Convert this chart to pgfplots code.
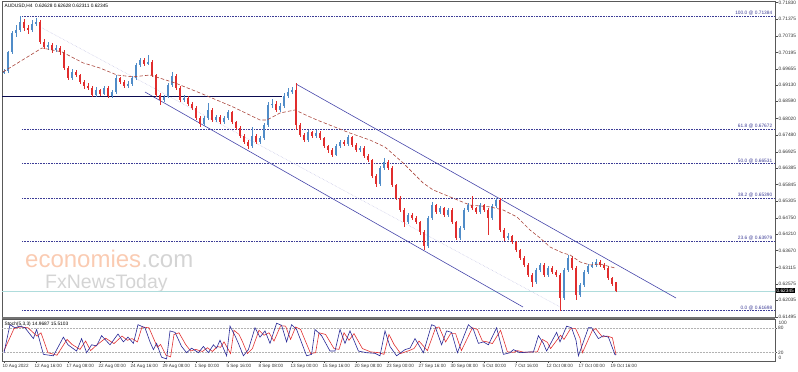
\documentclass[border=0pt]{standalone}
\usepackage{pgfplots}
\pgfplotsset{compat=1.18}
\usepackage{pgfplotstable}
\usepackage{fontspec}
\setmainfont{Liberation Sans}
\definecolor{upc}{RGB}{80,140,200}
\definecolor{dnc}{RGB}{225,45,45}
\definecolor{mac}{RGB}{170,70,60}
\definecolor{fibc}{RGB}{60,60,150}
\definecolor{chc}{RGB}{70,70,170}
\definecolor{navyl}{RGB}{10,10,80}
\definecolor{curc}{RGB}{175,220,220}
\definecolor{kc}{RGB}{40,40,150}
\definecolor{dc}{RGB}{225,50,50}
\definecolor{wmo}{RGB}{250,203,178}
\definecolor{wmg}{RGB}{212,212,212}
\pgfplotstableread{
x o h l c
0 0.6955 0.6965 0.6948 0.6958
2 0.6958 0.7025 0.6952 0.7021
4 0.7021 0.7090 0.7015 0.7083
6 0.7083 0.7110 0.7070 0.7093
8 0.7093 0.71384 0.7088 0.7120
10 0.7120 0.7128 0.7090 0.7100
12 0.7100 0.7110 0.7080 0.7093
14 0.7093 0.7125 0.7088 0.7113
16 0.7113 0.7132 0.7105 0.7120
18 0.7120 0.7126 0.7048 0.7054
20 0.7054 0.7062 0.7030 0.7037
22 0.7037 0.7055 0.7028 0.7044
24 0.7044 0.7050 0.7018 0.7027
26 0.7027 0.7045 0.7020 0.7034
28 0.7034 0.7040 0.7012 0.7021
30 0.7021 0.7026 0.6960 0.6968
32 0.6968 0.6975 0.6928 0.6935
34 0.6935 0.6965 0.6930 0.6955
36 0.6955 0.6962 0.6938 0.6945
38 0.6945 0.6950 0.6915 0.6922
40 0.6922 0.6930 0.6900 0.6909
42 0.6909 0.6920 0.6895 0.6902
44 0.6902 0.6908 0.6872 0.6879
46 0.6879 0.6905 0.6874 0.6896
48 0.6896 0.6900 0.6876 0.6883
50 0.6883 0.6910 0.6878 0.6902
52 0.6902 0.6908 0.6868 0.6876
54 0.6876 0.6895 0.6870 0.6889
56 0.6889 0.6945 0.6884 0.6935
58 0.6935 0.6940 0.6915 0.6922
60 0.6922 0.6930 0.6902 0.6909
62 0.6909 0.6925 0.6903 0.6916
64 0.6916 0.6942 0.6910 0.6935
66 0.6935 0.6985 0.6930 0.6978
68 0.6978 0.7002 0.6970 0.6995
70 0.6995 0.7000 0.6975 0.6981
72 0.6981 0.7011 0.6978 0.6988
74 0.6988 0.6994 0.6940 0.6945
76 0.6945 0.6950 0.6872 0.6879
78 0.6879 0.6885 0.6846 0.6863
80 0.6863 0.6880 0.6855 0.6873
82 0.6873 0.6918 0.6868 0.6912
84 0.6912 0.6955 0.6905 0.6942
86 0.6942 0.6948 0.6895 0.6902
88 0.6902 0.6908 0.6855 0.6863
90 0.6863 0.6878 0.6855 0.6869
92 0.6869 0.6875 0.6842 0.6850
94 0.6850 0.6856 0.6830 0.6837
96 0.6837 0.6842 0.6797 0.6804
98 0.6804 0.6810 0.6774 0.6784
100 0.6784 0.6810 0.6778 0.6804
102 0.6804 0.6853 0.6798 0.6830
104 0.6830 0.6835 0.6790 0.6797
106 0.6797 0.6815 0.6790 0.6807
108 0.6807 0.6812 0.6783 0.6790
110 0.6790 0.6810 0.6785 0.6804
112 0.6804 0.6830 0.6798 0.6823
114 0.6823 0.6828 0.6784 0.6790
116 0.6790 0.6795 0.6764 0.6771
118 0.6771 0.6776 0.6738 0.6744
120 0.6744 0.6750 0.6718 0.6725
122 0.6725 0.6730 0.6702 0.6711
124 0.6711 0.6774 0.6706 0.6744
126 0.6744 0.6750 0.6718 0.6725
128 0.6725 0.6745 0.6718 0.6738
130 0.6738 0.6788 0.6732 0.6781
132 0.6781 0.6855 0.6775 0.6846
134 0.6846 0.6865 0.6838 0.6850
136 0.6850 0.6858 0.6822 0.6830
138 0.6830 0.6852 0.6825 0.6843
140 0.6843 0.6885 0.6838 0.6876
142 0.6876 0.6902 0.6870 0.6889
144 0.6889 0.6905 0.6882 0.6896
146 0.6896 0.6918 0.6764 0.6781
148 0.6781 0.6788 0.6740 0.6748
150 0.6748 0.6755 0.6724 0.6731
152 0.6731 0.6765 0.6725 0.6758
154 0.6758 0.6762 0.6738 0.6744
156 0.6744 0.6765 0.6738 0.6754
158 0.6754 0.6760 0.6730 0.6738
160 0.6738 0.6742 0.6705 0.6711
162 0.6711 0.6716 0.6690 0.6698
164 0.6698 0.6704 0.6675 0.6682
166 0.6682 0.6718 0.6678 0.6711
168 0.6711 0.6732 0.6705 0.6725
170 0.6725 0.6730 0.6712 0.6718
172 0.6718 0.6748 0.6712 0.6741
174 0.6741 0.6745 0.6708 0.6715
176 0.6715 0.6720 0.6692 0.6698
178 0.6698 0.6712 0.6692 0.6705
180 0.6705 0.6710 0.6672 0.6679
182 0.6679 0.6684 0.6658 0.6665
184 0.6665 0.6670 0.6606 0.6613
186 0.6613 0.6618 0.6577 0.6586
188 0.6586 0.6645 0.6580 0.6639
190 0.6639 0.6672 0.6632 0.6659
192 0.6659 0.6665 0.6632 0.6639
194 0.6639 0.6645 0.6576 0.6583
196 0.6583 0.6588 0.6533 0.6540
198 0.6540 0.6548 0.6494 0.6501
200 0.6501 0.6508 0.6445 0.6461
202 0.6461 0.6492 0.6455 0.6484
204 0.6484 0.6490 0.6468 0.6474
206 0.6474 0.6480 0.6455 0.6461
208 0.6461 0.6466 0.6420 0.6428
210 0.6428 0.6435 0.6369 0.6382
212 0.6382 0.6480 0.6376 0.6474
214 0.6474 0.6527 0.6468 0.6517
216 0.6517 0.6522 0.6488 0.6494
218 0.6494 0.6515 0.6488 0.6507
220 0.6507 0.6512 0.6478 0.6484
222 0.6484 0.6508 0.6478 0.6501
224 0.6501 0.6506 0.6455 0.6461
226 0.6461 0.6466 0.6402 0.6409
228 0.6409 0.6448 0.6403 0.6442
230 0.6442 0.6508 0.6436 0.6501
232 0.6501 0.6525 0.6495 0.6517
234 0.6517 0.6547 0.6500 0.6507
236 0.6507 0.6512 0.6488 0.6494
238 0.6494 0.6524 0.6488 0.6517
240 0.6517 0.6522 0.6495 0.6501
242 0.6501 0.6506 0.6419 0.6474
244 0.6474 0.6520 0.6468 0.6514
246 0.6514 0.6540 0.6508 0.6534
248 0.6534 0.6540 0.6428 0.6435
250 0.6435 0.6440 0.6400 0.6409
252 0.6409 0.6425 0.6402 0.6415
254 0.6415 0.6420 0.6388 0.6396
256 0.6396 0.6400 0.6362 0.6369
258 0.6369 0.6374 0.6336 0.6343
260 0.6343 0.6348 0.6313 0.6320
262 0.6320 0.6325 0.6280 0.6287
264 0.6287 0.6292 0.6248 0.6264
266 0.6264 0.6310 0.6258 0.6303
268 0.6303 0.6328 0.6297 0.6320
270 0.6320 0.6325 0.6280 0.6287
272 0.6287 0.6316 0.6280 0.6310
274 0.6310 0.6315 0.6290 0.6297
276 0.6297 0.6303 0.6280 0.6287
278 0.6287 0.6292 0.61698 0.6211
280 0.6211 0.6310 0.6205 0.6303
282 0.6303 0.6353 0.6297 0.6343
284 0.6343 0.6348 0.6303 0.6310
286 0.6310 0.6315 0.6205 0.6221
288 0.6221 0.6260 0.6215 0.6254
290 0.6254 0.6303 0.6248 0.6297
292 0.6297 0.6322 0.6290 0.6316
294 0.6316 0.6330 0.6310 0.6320
296 0.6320 0.6340 0.6313 0.6330
298 0.6330 0.6335 0.6313 0.6320
300 0.6320 0.6328 0.6303 0.6310
302 0.6310 0.6315 0.6270 0.6277
304 0.6277 0.6282 0.6250 0.6257
306 0.62628 0.62628 0.62311 0.62345
}\candles
\begin{document}
\begin{tikzpicture}[x=1pt,y=1pt]
\useasboundingbox (0,0) rectangle (798pt,372pt);
% watermark
\node[anchor=base west, inner sep=0, text=wmo, font=\fontsize{24}{24}\selectfont] at (25pt,104.5pt) {economies\textcolor{wmg}{.com}};
\node[anchor=base west, inner sep=0, text=wmg, font=\fontsize{19.5}{19.5}\selectfont] at (45pt,83pt) {FxNewsToday};
% main price panel
\begin{axis}[
  at={(2pt,55pt)}, anchor=south west, scale only axis,
  width=773pt, height=316pt,
  xmin=-1, xmax=385.5, ymin=0.61487, ymax=0.71886,
  clip=false,
  axis line style={draw=black!65, line width=0.5pt},
  xtick=\empty,
  ytick={0.61495,0.62035,0.62575,0.63115,0.63670,0.64210,0.64750,0.65305,0.65845,0.66385,0.66925,0.67480,0.68020,0.68590,0.69130,0.69655,0.70195,0.70735,0.71290,0.71830},
  yticklabels={0.61495,0.62035,0.62575,0.63115,0.63670,0.64210,0.64750,0.65305,0.65845,0.66385,0.66925,0.67480,0.68020,0.68590,0.69130,0.69655,0.70195,0.70735,0.71375,0.71830},
  ytick pos=right, yticklabel pos=right, tick align=outside,
  major tick length=2.5pt, tick style={black!70, line width=0.4pt},
  yticklabel style={font=\fontsize{4.8}{5}\selectfont, text=black!80, inner sep=1pt},
]
% fibonacci levels
\addplot[fibc, densely dotted, line width=0.6pt, forget plot] coordinates {(9,0.71384) (385.5,0.71384)};
\addplot[fibc, densely dotted, line width=0.6pt, forget plot] coordinates {(9,0.67672) (385.5,0.67672)};
\addplot[fibc, densely dotted, line width=0.6pt, forget plot] coordinates {(9,0.66531) (385.5,0.66531)};
\addplot[fibc, densely dotted, line width=0.6pt, forget plot] coordinates {(9,0.65390) (385.5,0.65390)};
\addplot[fibc, densely dotted, line width=0.6pt, forget plot] coordinates {(9,0.63979) (385.5,0.63979)};
\addplot[fibc, densely dotted, line width=0.6pt, forget plot] coordinates {(9,0.61698) (385.5,0.61698)};
\node[anchor=south east, inner sep=0.6pt, text=fibc, font=\fontsize{4.8}{5}\selectfont] at (axis cs:384.5,0.71384) {100.0 @ 0.71384};
\node[anchor=south east, inner sep=0.6pt, text=fibc, font=\fontsize{4.8}{5}\selectfont] at (axis cs:384.5,0.67672) {61.8 @ 0.67672};
\node[anchor=south east, inner sep=0.6pt, text=fibc, font=\fontsize{4.8}{5}\selectfont] at (axis cs:384.5,0.66531) {50.0 @ 0.66531};
\node[anchor=south east, inner sep=0.6pt, text=fibc, font=\fontsize{4.8}{5}\selectfont] at (axis cs:384.5,0.65390) {38.2 @ 0.65390};
\node[anchor=south east, inner sep=0.6pt, text=fibc, font=\fontsize{4.8}{5}\selectfont] at (axis cs:384.5,0.63979) {23.6 @ 0.63979};
\node[anchor=south east, inner sep=0.6pt, text=fibc, font=\fontsize{4.8}{5}\selectfont] at (axis cs:384.5,0.61698) {0.0 @ 0.61698};
% current price line
\addplot[curc, line width=0.6pt, forget plot] coordinates {(-1,0.62345) (385.5,0.62345)};
% channel
\addplot[chc, line width=0.6pt, forget plot] coordinates {(146,0.69155) (336,0.62112)};
\addplot[chc, line width=0.6pt, forget plot] coordinates {(70.5,0.68891) (259.5,0.61816)};
\addplot[chc!35, densely dotted, line width=0.5pt, forget plot] coordinates {(19,0.7100) (278,0.6182)};
% horizontal support/resistance
\addplot[navyl, line width=0.9pt, forget plot] coordinates {(-1,0.68737) (139,0.68737)};
% candles: wicks
\addplot[draw=none, mark=none, forget plot,
  restrict expr to domain={\thisrow{c}-\thisrow{o}}{0:1},
  error bars/.cd, y dir=both, y explicit, error mark=none,
  error bar style={draw=upc, line width=0.7pt}]
  table[x=x, y expr={(\thisrow{h}+\thisrow{l})/2}, y error expr={(\thisrow{h}-\thisrow{l})/2}] {\candles};
\addplot[draw=none, mark=none, forget plot,
  restrict expr to domain={\thisrow{c}-\thisrow{o}}{-1:0},
  error bars/.cd, y dir=both, y explicit, error mark=none,
  error bar style={draw=dnc, line width=0.7pt}]
  table[x=x, y expr={(\thisrow{h}+\thisrow{l})/2}, y error expr={(\thisrow{h}-\thisrow{l})/2}] {\candles};
% candles: bodies
\addplot[draw=none, mark=none, forget plot,
  restrict expr to domain={\thisrow{c}-\thisrow{o}}{0:1},
  error bars/.cd, y dir=both, y explicit, error mark=none,
  error bar style={draw=upc, line width=2.2pt}]
  table[x=x, y expr={(\thisrow{o}+\thisrow{c})/2}, y error expr={abs(\thisrow{c}-\thisrow{o})/2}] {\candles};
\addplot[draw=none, mark=none, forget plot,
  restrict expr to domain={\thisrow{c}-\thisrow{o}}{-1:0},
  error bars/.cd, y dir=both, y explicit, error mark=none,
  error bar style={draw=dnc, line width=2.2pt}]
  table[x=x, y expr={(\thisrow{o}+\thisrow{c})/2}, y error expr={abs(\thisrow{c}-\thisrow{o})/2}] {\candles};
% moving average
\addplot[mac, line width=0.6pt, dash pattern=on 3.5pt off 2pt, forget plot] coordinates {
(-0.5,0.6955) (19,0.7034) (29,0.7021) (39.5,0.6985) (48,0.6968) (56.5,0.6945) (64.5,0.6939) (73,0.6945) (85.5,0.6919) (98,0.6886) (114.5,0.6840) (128,0.6797) (131.5,0.6797) (138,0.6820) (145.5,0.6830) (153,0.6807) (156.5,0.6797) (173,0.6754) (183,0.6731) (190.5,0.6708) (199.5,0.6656) (209.5,0.6590) (214.5,0.6567) (223,0.6544) (233,0.6517) (243,0.6511) (249.5,0.6501) (256.5,0.6478) (263,0.6435) (268,0.6409) (273,0.6379) (279.5,0.6359) (283,0.6353) (288,0.6330) (293,0.6320) (298,0.6323) (305.5,0.6310)};
% current price box
\node[anchor=west, fill=black, text=white, inner sep=0.8pt, font=\fontsize{4.8}{5}\selectfont, xshift=0.5pt] at (axis cs:385.5,0.62345) {0.62345};
\node[anchor=north west, inner sep=0.5pt, font=\fontsize{4.8}{5}\selectfont] at (rel axis cs:0,1) [xshift=2pt, yshift=-2pt] {AUDUSD,H4\ \ 0.62628 0.62628 0.62311 0.62345};
\end{axis}
% separator band
\fill[black!55] (2pt,52.5pt) rectangle (775pt,55pt);
% stochastic panel
\begin{axis}[
  at={(2pt,11pt)}, anchor=south west, scale only axis,
  width=773pt, height=41.5pt,
  xmin=-1, xmax=385.5, ymin=0, ymax=100,
  clip=false,
  axis line style={draw=black!65, line width=0.5pt},
  xtick={0,16,32,48,64,80,96,112,128,144,160,176,192,208,224,240,256,272,288,304},
  xticklabels={10 Aug 2022,12 Aug 16:00,17 Aug 08:00,22 Aug 00:00,24 Aug 16:00,29 Aug 08:00,1 Sep 00:00,5 Sep 16:00,8 Sep 08:00,13 Sep 00:00,15 Sep 16:00,20 Sep 08:00,23 Sep 00:00,27 Sep 16:00,30 Sep 08:00,5 Oct 00:00,7 Oct 16:00,12 Oct 08:00,17 Oct 00:00,19 Oct 16:00},
  xtick pos=bottom, xticklabel pos=bottom,
  ytick={20,80}, yticklabels={20,80},
  ytick pos=right, yticklabel pos=right, tick align=outside,
  major tick length=2pt, tick style={black!70, line width=0.4pt},
  xticklabel style={anchor=north west, font=\fontsize{4.6}{5}\selectfont, text=black!80, inner sep=0.8pt, xshift=-2.5pt},
  yticklabel style={font=\fontsize{4.8}{5}\selectfont, text=black!80, inner sep=1pt},
]
\addplot[black!30, densely dotted, line width=0.5pt, forget plot] coordinates {(-1,80) (385.5,80)};
\addplot[black!30, densely dotted, line width=0.5pt, forget plot] coordinates {(-1,20) (385.5,20)};
\addplot[dc, line width=0.6pt, forget plot] coordinates {
(0,25) (5,78) (8,82) (12,80) (16.5,60) (18.5,68) (22,20) (26.5,14) (31.5,52) (34,40) (38,28) (40.8,48) (43.3,25) (46,37) (50.8,55) (55,42) (59,60) (61.7,50) (64,54) (66.7,46) (69,82) (72.5,80) (75,52) (76.7,33) (78.3,40) (81,14) (83.3,10) (85,64) (87.5,68) (90.8,40) (93.3,24) (95.8,28) (99.2,23) (101.7,32) (104.2,23) (106.7,35) (108.3,33) (110,46) (113.3,18) (115,74) (117.5,64) (119.2,47) (121.7,18) (124.2,30) (127.5,74) (130,62) (132.5,68) (135,48) (138.3,85) (140.8,84) (143.3,52) (145.8,82) (148.3,76) (153.3,18) (155.8,20) (157.5,68) (160.8,64) (165,30) (167.5,28) (170,68) (172.5,50) (175,66) (179.2,30) (183.3,22) (187.5,20) (190,16) (192.5,64) (195,40) (198.3,18) (202.5,25) (205,30) (207.5,48) (211.7,25) (215.8,80) (217.5,82) (220.8,46) (223.3,66) (225.8,66) (228.7,25) (234.2,80) (236.7,76) (239.2,48) (241.7,46) (244.2,42) (248.3,74) (251.7,22) (255,21) (256.7,25) (260,21) (265,22) (266.7,22) (269.2,52) (271.7,45) (273.3,30) (278.3,62) (280,52) (283.3,78) (285.8,78) (288,55) (289.2,20) (294.2,74) (295.8,78) (299.2,58) (301.7,60) (304.2,56) (306,15.5)};
\addplot[kc, line width=0.6pt, forget plot] coordinates {
(0,20) (3,87.5) (5.5,80) (8,84) (10.5,80) (14.7,54) (16.3,76) (19.7,16) (24.7,12.5) (29.7,57.5) (32,39) (36.3,24) (38.8,54) (41.3,20) (43.8,39) (46.3,36.5) (48.8,61) (53,39) (57,65) (59.7,46) (62,57.5) (64.7,42.5) (67,87.5) (70.5,80) (73,46) (74.7,27.5) (76.3,42.5) (78.8,9) (81.3,5) (83,72.5) (85.5,69) (88.8,35) (91.3,20) (93.8,31) (97.2,20) (99.7,35) (102.2,20) (104.7,39) (106.3,31) (108,50) (111.3,12.5) (113,84) (115.5,61) (117.2,42.5) (119.7,12.5) (122.2,27.5) (125.5,80) (128,57.5) (130.5,72.5) (133,42.5) (136.3,91) (138.8,86) (141.3,46) (143.8,87.5) (146.3,76) (151.3,12.5) (153.8,16) (155.5,76) (158.8,61) (163,24) (165.5,24) (168,76) (170.5,42.5) (173,72.5) (177.2,24) (181.3,20) (185.5,18.5) (188,12.5) (190.5,72.5) (193,35) (196.3,12.5) (200.5,27.5) (203,31) (205.5,54) (209.7,20) (213.8,87.5) (215.5,84) (218.8,39) (221.3,72.5) (223.8,69) (226.7,20) (232.2,87.5) (234.7,76) (237.2,42.5) (239.7,46) (242.2,39) (246.3,80) (249.7,16) (253,20) (254.7,27.5) (258,20) (263,22) (264.7,21.5) (267.2,61) (269.7,42.5) (271.3,24) (276.3,69) (278,46) (281.3,84) (283.8,80) (286,50) (287.2,12.5) (292.2,80) (293.8,80) (297.2,54) (299.7,61) (302.2,57.5) (305.5,15) (306,14.97)};
\node[anchor=north west, inner sep=0.5pt, font=\fontsize{4.8}{5}\selectfont] at (rel axis cs:0,1) [xshift=2pt, yshift=-2pt] {Stoch(5,3,3) 14.9687 15.5103};
\node[anchor=north west, inner sep=0.5pt, font=\fontsize{4.8}{5}\selectfont, text=black!80] at (rel axis cs:1,1) [xshift=3pt, yshift=-0.5pt] {100};
\node[anchor=south west, inner sep=0.5pt, font=\fontsize{4.8}{5}\selectfont, text=black!80] at (rel axis cs:1,0) [xshift=3pt, yshift=0.5pt] {0};
\end{axis}
\end{tikzpicture}
\end{document}
